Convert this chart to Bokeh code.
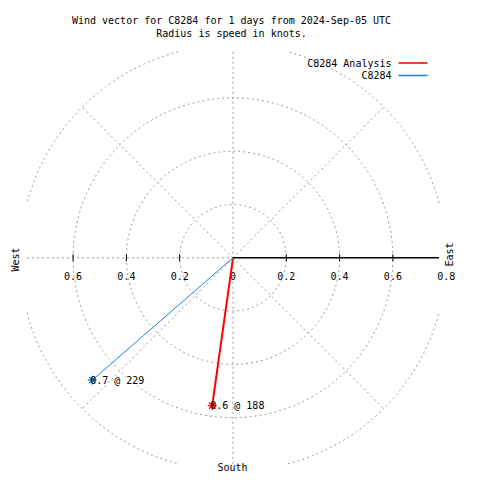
import math
import numpy as np
from bokeh.plotting import figure
from bokeh.models import Range1d, ColumnDataSource
from bokeh.core.properties import value
from bokeh.embed import file_html
from bokeh.resources import INLINE

# ---------------- data ----------------
series_names = ["C8284 Analysis", "C8284"]
speeds = [0.56, 0.70]          # knots
directions = [188, 229]        # degrees
series_colors = ["#ff0000", "#1f7fe6"]
series_widths = [2, 1]
grid_radii = [0.2, 0.4, 0.6, 0.8]
east_ticks = [0.2, 0.4, 0.6, 0.8]
east_tick_labels = ["0.2", "0.4", "0.6", "0.8"]
west_ticks = [0.2, 0.4, 0.6]
west_tick_labels = ["0.2", "0.4", "0.6"]
spoke_angles = [45, 135, 225, 315]
view_limit = 0.773             # plot box half-size in knots
title_lines = ["Wind vector for C8284 for 1 days from 2024-Sep-05 UTC",
               "Radius is speed in knots."]

# ---------------- layout helpers ----------------
W = H = 472
CX, CY = 232.5, 257.3   # centre in picture pixels
S = 266.5               # pixels per knot
FONT = value("DejaVu Sans Mono")
FS = "10px"
GRID = "#999999"
DASH = "2 3"

def P(xr, yr):
    return (xr - CX) / S, (CY - yr) / S

p = figure(width=W, height=H, output_backend="svg", toolbar_location=None,
           x_range=Range1d((0 - CX) / S, (W - CX) / S),
           y_range=Range1d((CY - H) / S, (CY - 0) / S),
           x_axis_type=None, y_axis_type=None, min_border=0)
p.grid.visible = False
p.outline_line_color = None
p.background_fill_color = "white"

# grid circles (outer one clipped by plot box)
for r in grid_radii:
    if r <= view_limit:
        p.arc(x=0, y=0, radius=r, start_angle=0, end_angle=2 * math.pi,
              line_color=GRID, line_dash=DASH, line_width=1)
    else:
        a0 = math.acos(view_limit / r)
        a1 = math.asin(view_limit / r)
        for q in range(4):
            base = q * math.pi / 2
            p.arc(x=0, y=0, radius=r, start_angle=base + a0, end_angle=base + a1,
                  line_color=GRID, line_dash=DASH, line_width=1)

# spokes
for a in spoke_angles:
    t = math.radians(a)
    p.line([0, grid_radii[-1] * math.cos(t)], [0, grid_radii[-1] * math.sin(t)],
           line_color=GRID, line_dash=DASH, line_width=1)
# vertical and west horizontal dashed lines
p.line([0, 0], [-view_limit, view_limit], line_color=GRID, line_dash=DASH)
p.line([-view_limit, 0], [0, 0], line_color=GRID, line_dash=DASH)

# east radial axis (solid)
p.line([0, view_limit], [0, 0], line_color="black", line_width=1.5)
th = 3.5 / S
for t in east_ticks + [-w for w in west_ticks]:
    if abs(t) < view_limit:
        p.line([t, t], [-th, th], line_color="black", line_width=1)

lab_y = -18.5 / S
p.text(x=[0] + east_ticks + [-w for w in west_ticks],
       y=[lab_y] * (1 + len(east_ticks) + len(west_ticks)),
       text=["0"] + east_tick_labels + west_tick_labels,
       text_font=FONT, text_font_size=FS, text_align="center",
       text_baseline="middle", text_color="black")

# compass labels
wx, wy = P(15, 259)
ex, ey = P(449, 254)
sx, sy = P(232, 467)
p.text(x=[wx, ex], y=[wy, ey], text=["West", "East"], angle=math.pi / 2,
       text_font=FONT, text_font_size=FS, text_align="center",
       text_baseline="middle", text_color="black")
p.text(x=[sx], y=[sy], text=["South"], text_font=FONT, text_font_size=FS,
       text_align="center", text_baseline="middle", text_color="black")

# wind vectors
for name, spd, d, c, lw in zip(series_names, speeds, directions,
                               series_colors, series_widths):
    t = math.radians(d)
    vx, vy = spd * math.sin(t), spd * math.cos(t)
    p.line([0, vx], [0, vy], line_color=c, line_width=lw)
    p.scatter([vx], [vy], marker="asterisk", size=9, line_color=c, line_width=1.2)
    p.text(x=[vx], y=[vy], text=["%.1f @ %d" % (spd, d)], x_offset=-2,
           text_font=FONT, text_font_size=FS, text_align="left",
           text_baseline="middle", text_color="black")

# title
for i, line in enumerate(title_lines):
    tx, ty = P(231, 20 + 13 * i)
    p.text(x=[tx], y=[ty], text=[line], text_font=FONT, text_font_size=FS,
           text_align="center", text_baseline="middle", text_color="black")

# legend
for i, (name, c) in enumerate(zip(series_names, series_colors)):
    lx, ly = P(391, 62.5 + 12.5 * i)
    x0, _ = P(398, 0)
    x1, _ = P(427, 0)
    p.text(x=[lx], y=[ly], text=[name], text_font=FONT, text_font_size=FS,
           text_align="right", text_baseline="middle", text_color="black")
    p.line([x0, x1], [ly, ly], line_color=c, line_width=1.5)

open("out.html", "w").write(file_html(p, INLINE))
